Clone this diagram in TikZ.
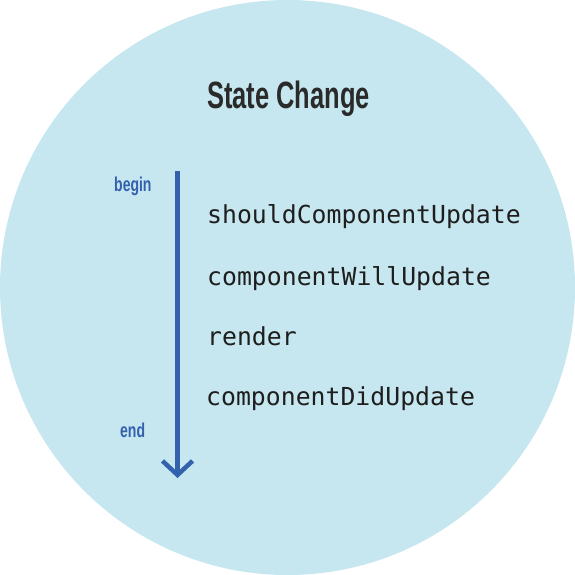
\documentclass[tikz,border=0pt]{standalone}
\usepackage{fontspec}
\usetikzlibrary{arrows.meta}
\newfontfamily\titlefont[FakeStretch=0.67]{Liberation Sans}
\newfontfamily\markfont[FakeStretch=0.7]{Liberation Sans}
\newfontfamily\codefont{DejaVu Sans Mono}
\definecolor{circfill}{HTML}{C6E7EF}
\definecolor{arrowblue}{HTML}{3461AE}
\definecolor{titlegray}{HTML}{2A2A2A}
\definecolor{codeblack}{HTML}{1E1E1E}
\tikzset{
  titletext/.style={anchor=base west, inner sep=0pt, text=titlegray, font=\titlefont\bfseries\fontsize{38}{40}\selectfont},
  marktext/.style={anchor=base west, inner sep=0pt, text=arrowblue, font=\markfont\bfseries\fontsize{20}{22}\selectfont},
  codetext/.style={anchor=base west, inner sep=0pt, text=codeblack, font=\codefont\fontsize{24.8}{27}\selectfont},
  flow/.style={draw=arrowblue, line width=4.5pt, -{Straight Barb[length=14pt,width=30pt]}}
}
\begin{document}
\begin{tikzpicture}[x=1pt,y=-1pt]
\useasboundingbox (0,0) rectangle (575,575);
\fill[circfill] (287.5,287.5) circle (287.5);
\node[titletext] (title) at (207,109) {State Change};
\node[marktext] (begin) at (114,191) {begin};
\node[marktext] (end) at (120,437) {end};
\node[codetext] (m1) at (207,223) {shouldComponentUpdate};
\node[codetext] (m2) at (207,285) {componentWillUpdate};
\node[codetext] (m3) at (207,345) {render};
\node[codetext] (m4) at (206,405) {componentDidUpdate};
\coordinate (top) at (177.5,171);
\coordinate (bot) at (177.5,478);
\draw[flow] (top) -- (bot);
\end{tikzpicture}
\end{document}
